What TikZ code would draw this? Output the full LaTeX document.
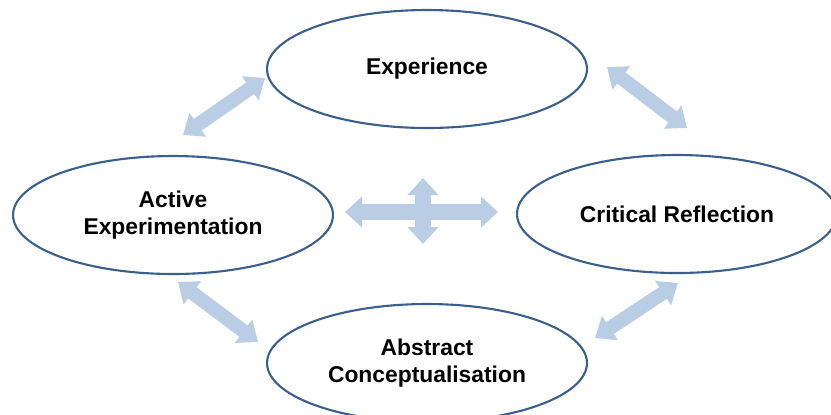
\documentclass[tikz,border=0pt]{standalone}
\usepackage{fontspec}
\setmainfont{Liberation Sans}
\usetikzlibrary{arrows.meta,shapes.geometric}
\definecolor{ringblue}{RGB}{58,95,139}
\definecolor{paleblue}{RGB}{185,205,229}
\tikzset{
  stage/.style={draw=ringblue,line width=1.2pt,ellipse,inner sep=0pt,
    minimum width=6.4cm,minimum height=2.36cm,align=center,
    font=\bfseries\fontsize{13}{15.5}\selectfont},
  flow/.style={draw=paleblue,line width=0.28cm,
    {Triangle[length=0.36cm,width=0.56cm]}-{Triangle[length=0.36cm,width=0.56cm]}},
  crossflow/.style={draw=paleblue,line width=0.32cm,
    {Triangle[length=0.34cm,width=0.6cm]}-{Triangle[length=0.34cm,width=0.6cm]}}
}

\begin{document}
\begin{tikzpicture}[x=0.02cm,y=-0.02cm]
		\useasboundingbox (0,0) rectangle (831,414);
		%the four stages
		\node [stage] (exp) at (427,69) {Experience};
		\node [stage] (refl) at (677,214) {Critical Reflection};
		\node [stage] (concept) at (427,363) {Abstract\\Conceptualisation};
		\node [stage] (active) at (173,215) {Active\\Experimentation};
		%ends of the arrows between them
		\coordinate (ea1) at (265,78);
		\coordinate (ea2) at (183,135);
		\coordinate (er1) at (607,67);
		\coordinate (er2) at (687,128);
		\coordinate (rc1) at (678,283);
		\coordinate (rc2) at (595,338);
		\coordinate (ac1) at (178,282);
		\coordinate (ac2) at (258,342);
		\draw [flow] (ea1) -- (ea2);
		\draw [flow] (er1) -- (er2);
		\draw [flow] (rc1) -- (rc2);
		\draw [flow] (ac1) -- (ac2);
		%the cross in the middle
		\coordinate (cl) at (345,212);
		\coordinate (cr) at (498,212);
		\coordinate (ct) at (423,178);
		\coordinate (cb) at (423,244);
		\draw [crossflow] (cl) -- (cr);
		\draw [crossflow] (ct) -- (cb);
\end{tikzpicture}
\end{document}
